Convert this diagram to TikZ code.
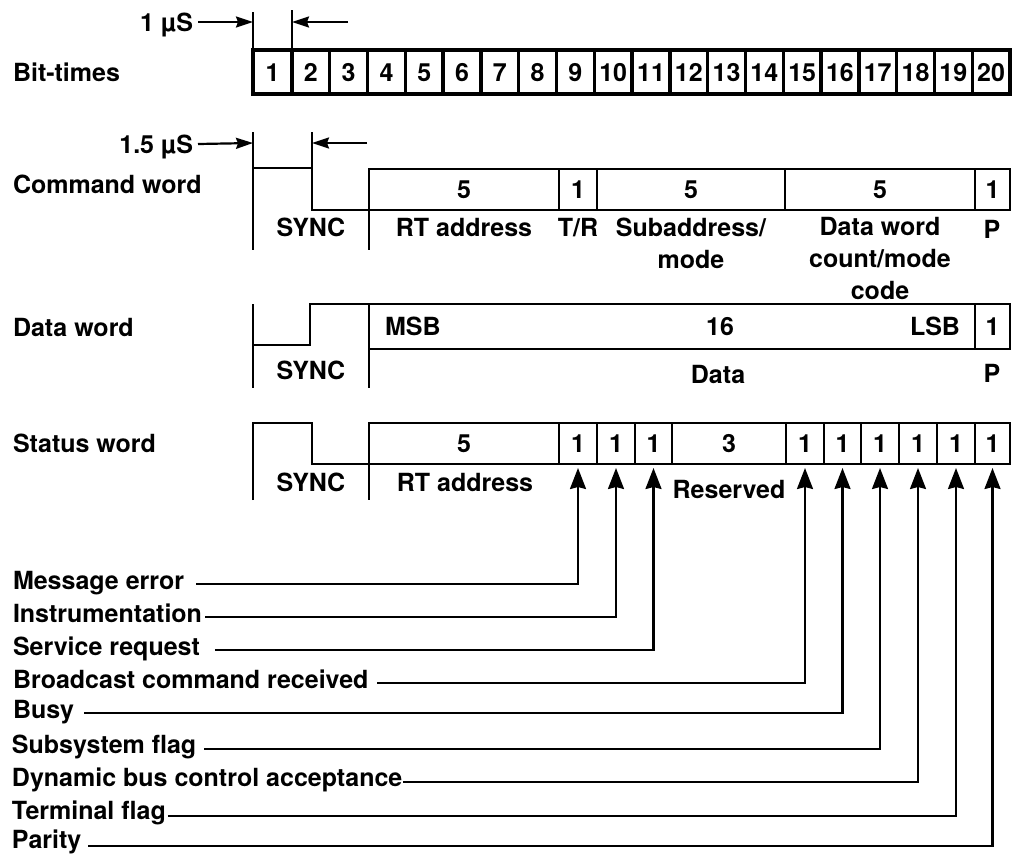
\documentclass[tikz,border=0pt]{standalone}
\usepackage{fontspec}
\setmainfont{TeX Gyre Heros}
\usetikzlibrary{arrows.meta}
\begin{document}
\begin{tikzpicture}[x=1pt,y=-1pt,
  txt/.style={font=\fontsize{25}{32}\selectfont\bfseries, inner sep=0pt, outer sep=0pt},
  ctr/.style={txt, text height=18pt, text depth=0pt},
  field/.style={ctr, draw, line width=2.8pt, anchor=north west},
  bitc/.style={ctr, draw, line width=3.4pt, anchor=north west, minimum height=44pt},
  tick/.style={line width=2.2pt},
  wave/.style={line width=2.8pt, line join=miter},
  sarr/.style={line width=2.2pt, -{Stealth[length=17pt,width=11pt,inset=2pt]}},
  farr/.style={line width=2.2pt, -{Stealth[length=21pt,width=16pt,inset=2pt]}}
]
\useasboundingbox (0,0) rectangle (1013,855);

% ---------- Bit-times ----------
\node[ctr, anchor=west] (lbit) at (13,72) {Bit-times};
\node[bitc, minimum width=39pt] (b1) at (253,50) {1};
\foreach \k in {2,...,20} {
  \node[bitc, minimum width=37.789pt] (b\k) at ({292+37.789*(\k-2)},50) {\k};
}
\draw[line width=3.8pt] (b1.north west) rectangle (b20.south east);
\draw[tick] (b1.north west) -- ++(0,-38);
\draw[tick] (b2.north west) -- ++(0,-40);
\node[ctr, anchor=east] (us1) at (193,22) {1 µS};
\coordinate (us1free) at (348,22);
\draw[sarr] ([xshift=5pt]us1.east) -- (b1.north west |- us1.east);
\draw[sarr] (us1free) -- (b2.north west |- us1free);

% ---------- Command word ----------
\node[ctr, anchor=west] (lcmd) at (13,184) {Command word};
\node[field, minimum width=190pt, minimum height=41pt] (cRT) at (369,169) {5};
\node[field, minimum width=38pt, minimum height=41pt] (cTR) at (559,169) {1};
\node[field, minimum width=188pt, minimum height=41pt] (cSA) at (597,169) {5};
\node[field, minimum width=190pt, minimum height=41pt] (cWC) at (785,169) {5};
\node[field, minimum width=35pt, minimum height=41pt] (cP) at (975,169) {1};
\node[ctr, anchor=east] (us15) at (193,144) {1.5 µS};
\coordinate (c0) at (253,143);
\coordinate (c1) at (312,143);
\coordinate (us15free) at (367,143);
\draw[tick] (253,132) -- (253,250);
\draw[tick] (312,132) -- (312,168);
\draw[wave] (253,168) -- (312,168) -- (312,210) -- (cRT.south west);
\draw[tick] (cRT.south west) -- (369,250);
\draw[sarr] ([xshift=5pt]us15.east) -- (c0);
\draw[sarr] (us15free) -- (c1);
\node[ctr] (cSync) at (311,227) {SYNC};
\node[ctr] (cRTl) at (cRT.center |- cSync) {RT address};
\node[ctr] (cTRl) at (cTR.center |- cSync) {T/R};
\node[txt, align=center, anchor=north] (cSAl) at (691,218) {Subaddress/\\mode};
\node[txt, align=center, anchor=north] (cWCl) at (880,217) {Data word\\count/mode\\code};
\node[ctr] (cPl) at (992,229) {P};

% ---------- Data word ----------
\node[ctr, anchor=west] (ldat) at (13,327) {Data word};
\node[field, minimum width=606pt, minimum height=45pt] (dD) at (369,304) {};
\node[field, minimum width=35pt, minimum height=45pt] (dP) at (975,304) {1};
\draw[tick] (253,304) -- (253,388);
\draw[wave] (253,345) -- (310,345) -- (310,304) -- (dD.north west);
\draw[tick] (dD.south west) -- (369,388);
\node[ctr, anchor=west] (dMSB) at (385,326) {MSB};
\node[ctr] (d16) at (720,326) {16};
\node[ctr, anchor=east] (dLSB) at (960,326) {LSB};
\node[ctr] (dSync) at (311,370) {SYNC};
\node[ctr] (dDatal) at (718,374) {Data};
\node[ctr] (dPl) at (992,373) {P};

% ---------- Status word ----------
\node[ctr, anchor=west] (lsta) at (13,443) {Status word};
\node[field, minimum width=190pt, minimum height=41pt] (sRT) at (369,423) {5};
\node[field, minimum width=38pt, minimum height=41pt] (sME) at (559,423) {1};
\node[field, minimum width=38pt, minimum height=41pt] (sIN) at (597,423) {1};
\node[field, minimum width=37pt, minimum height=41pt] (sSR) at (635,423) {1};
\node[field, minimum width=114pt, minimum height=41pt] (sRES) at (672,423) {3};
\node[field, minimum width=38pt, minimum height=41pt] (sBC) at (786,423) {1};
\node[field, minimum width=37pt, minimum height=41pt] (sBU) at (824,423) {1};
\node[field, minimum width=38pt, minimum height=41pt] (sSF) at (861,423) {1};
\node[field, minimum width=38pt, minimum height=41pt] (sDB) at (899,423) {1};
\node[field, minimum width=38pt, minimum height=41pt] (sTF) at (937,423) {1};
\node[field, minimum width=35pt, minimum height=41pt] (sP) at (975,423) {1};
\draw[wave] (253,500) -- (253,423) -- (312,423) -- (312,464) -- (sRT.south west);
\draw[tick] (sRT.south west) -- (369,500);
\node[ctr] (sSync) at (311,482) {SYNC};
\node[ctr] (sRTl) at (465,482) {RT address};
\node[ctr] (sRESl) at (729,489) {Reserved};

% ---------- Status bit labels ----------
\node[ctr, anchor=west] (lME) at (13,580) {Message error};
\node[ctr, anchor=west] (lIN) at (13,613) {Instrumentation};
\node[ctr, anchor=west] (lSR) at (13,646) {Service request};
\node[ctr, anchor=west] (lBC) at (13,679) {Broadcast command received};
\node[ctr, anchor=west] (lBU) at (13,709) {Busy};
\node[ctr, anchor=west] (lSF) at (12,744) {Subsystem flag};
\node[ctr, anchor=west] (lDB) at (12,777) {Dynamic bus control acceptance};
\node[ctr, anchor=west] (lTF) at (12,810) {Terminal flag};
\node[ctr, anchor=west] (lP) at (12,839) {Parity};

\draw[farr] ([xshift=12pt,yshift=-4pt]lME.east) -| ([yshift=-4pt]sME.south);
\draw[farr] ([xshift=3pt,yshift=-4pt]lIN.east) -| ([yshift=-4pt]sIN.south);
\draw[farr] ([xshift=15pt,yshift=-4pt]lSR.east) -| ([yshift=-4pt]sSR.south);
\draw[farr] ([xshift=9pt,yshift=-4pt]lBC.east) -| ([yshift=-4pt]sBC.south);
\draw[farr] ([xshift=10pt,yshift=-4pt]lBU.east) -| ([yshift=-4pt]sBU.south);
\draw[farr] ([xshift=8pt,yshift=-5pt]lSF.east) -| ([yshift=-4pt]sSF.south);
\draw[farr] ([xshift=1pt,yshift=-5pt]lDB.east) -| ([yshift=-4pt]sDB.south);
\draw[farr] ([xshift=2pt,yshift=-6pt]lTF.east) -| ([yshift=-4pt]sTF.south);
\draw[farr] ([xshift=7pt,yshift=-7pt]lP.east) -| ([yshift=-4pt]sP.south);
\end{tikzpicture}
\end{document}
